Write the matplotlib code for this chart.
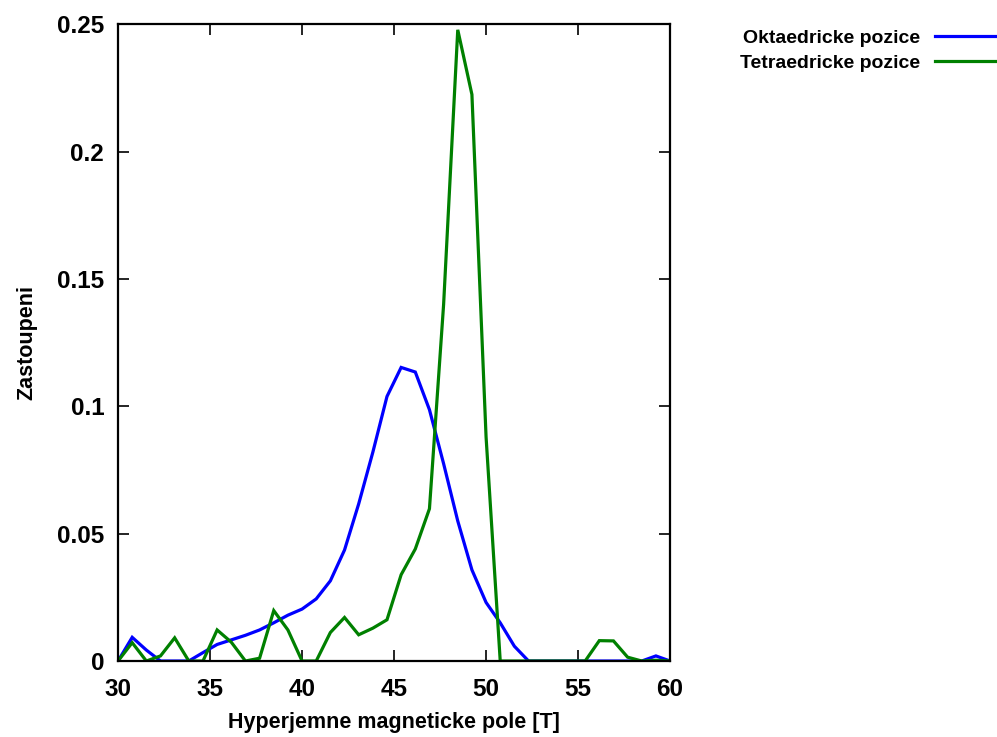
import numpy as np
import matplotlib
matplotlib.use("Agg")
import matplotlib.pyplot as plt
from matplotlib.lines import Line2D

plt.rcParams['font.family'] = ['Liberation Sans', 'DejaVu Sans']
plt.rcParams['font.weight'] = 'bold'

field = np.linspace(30, 60, 40)

okta = [0.0, 0.0093, 0.0043, 0.0, 0.0, 0.0, 0.0033, 0.0065, 0.0083, 0.0101,
        0.0122, 0.0150, 0.0180, 0.0204, 0.0244, 0.0315, 0.0436, 0.0617, 0.0820, 0.1039,
        0.1153, 0.1135, 0.0987, 0.0775, 0.0550, 0.0358, 0.0230, 0.0150, 0.0058, 0.0,
        0.0, 0.0, 0.0, 0.0, 0.0, 0.0, 0.0, 0.0, 0.0020, 0.0]

tetra = [0.0, 0.0072, 0.0, 0.0020, 0.0091, 0.0, 0.0, 0.0122, 0.0074, 0.0,
         0.0011, 0.0198, 0.0122, 0.0, 0.0, 0.0112, 0.0171, 0.0103, 0.0129, 0.0162,
         0.0339, 0.0440, 0.0598, 0.1400, 0.2479, 0.2225, 0.0880, 0.0, 0.0, 0.0,
         0.0, 0.0, 0.0, 0.0, 0.0080, 0.0079, 0.0015, 0.0, 0.0003, 0.0]

labels = ["Oktaedricke pozice", "Tetraedricke pozice"]
colors = ["#0000ff", "#008000"]

fig = plt.figure(figsize=(9.97, 7.37), dpi=100)
ax = fig.add_axes([0.1184, 0.1031, 0.5537, 0.8637])

ax.plot(field, okta, color=colors[0], lw=2.3, solid_joinstyle='miter')
ax.plot(field, tetra, color=colors[1], lw=2.3, solid_joinstyle='miter')

ax.set_xlim(30, 60)
ax.set_ylim(0, 0.25)
ax.set_xticks([30, 35, 40, 45, 50, 55, 60])
ax.set_yticks([0, 0.05, 0.1, 0.15, 0.2, 0.25])
ax.set_yticklabels(["0", "0.05", "0.1", "0.15", "0.2", "0.25"])
ax.tick_params(direction='in', length=8, width=1.2, top=True, right=True,
               labelsize=17.5)
ax.tick_params(axis='x', pad=12)
ax.tick_params(axis='y', pad=10)
for lab in ax.get_xticklabels() + ax.get_yticklabels():
    lab.set_fontweight('bold')
for s in ax.spines.values():
    s.set_linewidth(1.6)

ax.set_xlabel("Hyperjemne magneticke pole [T]", fontsize=15.5, fontweight='bold', labelpad=8)
ax.set_ylabel("Zastoupeni", fontsize=15.5, fontweight='bold', labelpad=14)

# legend (outside, top right)
W, H = 997.0, 737.0
for i, (lab, c) in enumerate(zip(labels, colors)):
    yp = [35.7, 60.7][i]
    fig.text(920 / W, 1 - (yp + 2.5) / H, lab, ha='right', va='center', fontsize=14, fontweight='bold')
    fig.add_artist(Line2D([935 / W, 1.0], [1 - yp / H, 1 - yp / H], color=c, lw=2.3,
                          transform=fig.transFigure))

fig.savefig("out.png", dpi=100)
